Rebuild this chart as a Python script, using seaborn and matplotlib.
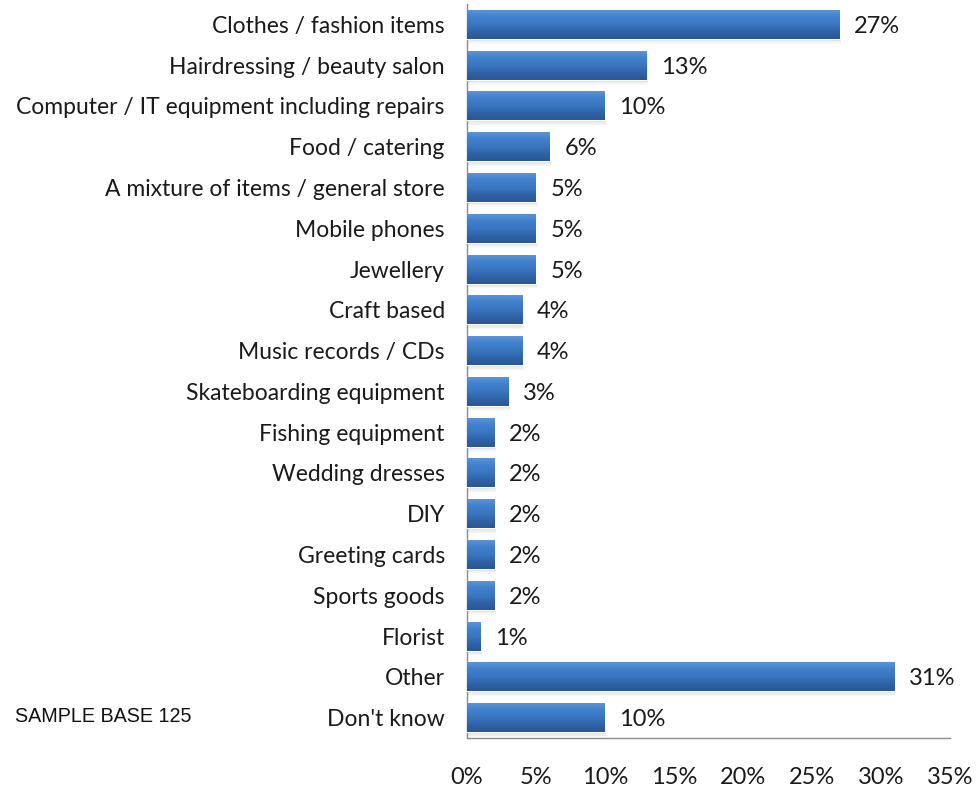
import matplotlib
matplotlib.use("Agg")
import numpy as np
import pandas as pd
import seaborn as sns
import matplotlib.pyplot as plt
from matplotlib.colors import LinearSegmentedColormap
from matplotlib.patches import Rectangle

categories = [
    "Clothes / fashion items",
    "Hairdressing / beauty salon",
    "Computer / IT equipment including repairs",
    "Food / catering",
    "A mixture of items / general store",
    "Mobile phones",
    "Jewellery",
    "Craft based",
    "Music records / CDs",
    "Skateboarding equipment",
    "Fishing equipment",
    "Wedding dresses",
    "DIY",
    "Greeting cards",
    "Sports goods",
    "Florist",
    "Other",
    "Don't know",
]
values = [27, 13, 10, 6, 5, 5, 5, 4, 4, 3, 2, 2, 2, 2, 2, 1, 31, 10]
x_ticks = [0, 5, 10, 15, 20, 25, 30, 35]
x_tick_labels = ["0%", "5%", "10%", "15%", "20%", "25%", "30%", "35%"]

sns.set_theme(style="white")
plt.rcParams["font.family"] = ["Lato", "DejaVu Sans"]

W, H = 976, 788
fig = plt.figure(figsize=(W / 100, H / 100), dpi=100)
ax = fig.add_axes([467 / W, 1 - 738 / H, (950 - 467) / W, (738 - 4) / H])

df = pd.DataFrame({"category": categories, "share": values})
sns.barplot(data=df, x="share", y="category", orient="h", color="#3a78c2",
            saturation=1, width=0.71, ax=ax, zorder=3)

# vertical blue gradient inside each bar, plus a soft drop shadow
grad_cmap = LinearSegmentedColormap.from_list(
    "bar_grad", ["#5b93d6", "#3f80cc", "#3a76c0", "#2f63a6", "#2a5795"])
grad = np.linspace(0, 1, 64).reshape(-1, 1)
for patch in list(ax.patches):
    x0, y0 = patch.get_x(), patch.get_y()
    w, h = patch.get_width(), patch.get_height()
    for k, a in enumerate([0.10, 0.08, 0.06]):
        d = 0.05 + 0.035 * k
        ax.add_patch(Rectangle((x0, y0 + d), w + 0.04 * (k + 1), h,
                               facecolor="#7f7f7f", edgecolor="none",
                               alpha=a, zorder=2))
    im = ax.imshow(grad, cmap=grad_cmap, aspect="auto", origin="upper",
                   extent=(x0, x0 + w, y0 + h, y0), zorder=4,
                   interpolation="bilinear")
    im.set_clip_path(patch)

for i, v in enumerate(values):
    ax.text(v + 1.05, i + 0.05, f"{v}%", va="center", ha="left",
            fontsize=17, color="#1a1a1a", zorder=5)

ax.set_xlim(0, 35)
ax.set_ylim(len(categories) - 0.5, -0.5)
ax.set_xticks(x_ticks)
ax.set_xticklabels(x_tick_labels, fontsize=17, color="#1a1a1a")
ax.tick_params(axis="x", length=0, pad=21)
ax.tick_params(axis="y", length=0, pad=16, labelsize=16.5, labelcolor="#1a1a1a")
ax.set_xlabel("")
ax.set_ylabel("")
for side in ("top", "right"):
    ax.spines[side].set_visible(False)
for side in ("left", "bottom"):
    ax.spines[side].set_color("#8c8c8c")
    ax.spines[side].set_linewidth(1.0)
ax.grid(False)

fig.text(15 / W, 1 - 716 / H, "SAMPLE BASE 125", family="Liberation Sans",
         fontsize=14.2, color="#111111", va="center", ha="left")

fig.savefig("out.png", dpi=100)
